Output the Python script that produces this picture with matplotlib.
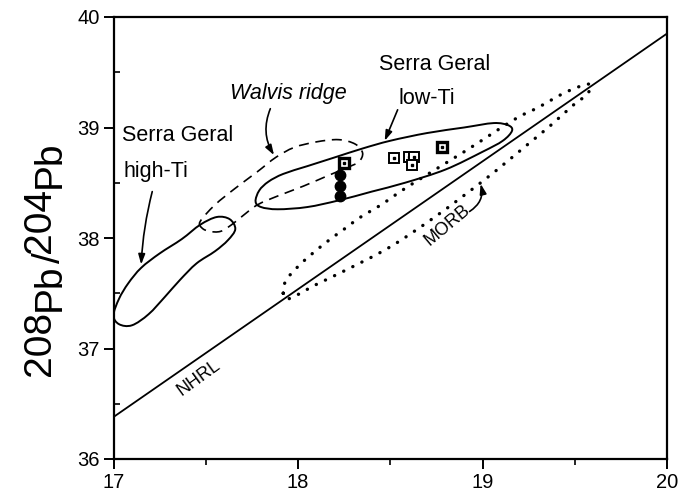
import numpy as np
import matplotlib
matplotlib.use('Agg')
import matplotlib.pyplot as plt
from matplotlib.path import Path
from matplotlib.patches import PathPatch

# NHRL reference line
nhrl_x = [17.0, 20.0]
nhrl_y = [36.38, 39.85]

# field outlines
hiti_x = [17.00, 17.03, 17.08, 17.15, 17.25, 17.37, 17.47, 17.56, 17.63, 17.66,
          17.62, 17.55, 17.45, 17.36, 17.28, 17.19, 17.10, 17.03]
hiti_y = [37.30, 37.45, 37.59, 37.73, 37.86, 37.99, 38.12, 38.19, 38.17, 38.08,
          37.98, 37.88, 37.77, 37.62, 37.47, 37.31, 37.21, 37.22]

lowti_x = [17.77, 17.79, 17.84, 17.92, 18.05, 18.20, 18.35, 18.50, 18.70, 18.90,
           19.06, 19.14, 19.16, 19.11, 19.00, 18.80, 18.58, 18.40, 18.22, 18.05, 17.89, 17.80]
lowti_y = [38.33, 38.43, 38.51, 38.58, 38.65, 38.73, 38.81, 38.88, 38.95, 39.00,
           39.04, 39.02, 38.97, 38.88, 38.78, 38.62, 38.50, 38.42, 38.34, 38.28, 38.26, 38.28]

walvis_x = [17.48, 17.47, 17.55, 17.66, 17.78, 17.88, 17.98, 18.10, 18.22, 18.31,
            18.35, 18.33, 18.27, 18.17, 18.03, 17.89, 17.78, 17.70, 17.64, 17.58, 17.52]
walvis_y = [38.09, 38.15, 38.30, 38.45, 38.60, 38.73, 38.82, 38.87, 38.89, 38.85,
            38.77, 38.69, 38.64, 38.57, 38.47, 38.38, 38.30, 38.20, 38.12, 38.06, 38.06]

morb_x = [17.92, 17.93, 17.97, 18.05, 18.16, 18.25, 18.34, 18.45, 18.60, 18.90, 19.17,
          19.30, 19.44, 19.56, 19.59, 19.56, 19.49, 19.37, 19.24, 19.11, 18.99,
          18.75, 18.50, 18.26, 18.10, 17.95]
morb_y = [37.50, 37.60, 37.69, 37.82, 37.97, 38.08, 38.19, 38.30, 38.47, 38.78, 39.07,
          39.18, 39.31, 39.39, 39.37, 39.29, 39.20, 39.02, 38.84, 38.66, 38.50,
          38.20, 37.92, 37.71, 37.58, 37.45]

# samples
sq_x = [18.25, 18.52, 18.60, 18.63, 18.62, 18.78]
sq_y = [38.68, 38.72, 38.73, 38.73, 38.66, 38.82]
sq_bold = [True, False, False, False, False, True]
circ_x = [18.23, 18.23, 18.23]
circ_y = [38.57, 38.47, 38.38]


def closed_curve(xs, ys):
    p = np.column_stack([xs, ys])
    n = len(p)
    verts = [p[0]]
    codes = [Path.MOVETO]
    for i in range(n):
        p0, p1, p2, p3 = p[i - 1], p[i], p[(i + 1) % n], p[(i + 2) % n]
        verts += [p1 + (p2 - p0) / 6, p2 - (p3 - p1) / 6, p2]
        codes += [Path.CURVE4] * 3
    return Path(verts, codes)


plt.rcParams['font.family'] = ['Liberation Sans', 'DejaVu Sans']

fig = plt.figure(figsize=(6.94, 4.92), dpi=100)
ax = fig.add_axes([113.5/694, 1 - 459/492, (667 - 113.5)/694, (459 - 17)/492])

ax.plot(nhrl_x, nhrl_y, 'k', lw=1.3)
ax.add_patch(PathPatch(closed_curve(hiti_x, hiti_y), fc='none', ec='k', lw=1.4))
ax.add_patch(PathPatch(closed_curve(lowti_x, lowti_y), fc='none', ec='k', lw=1.4))
ax.add_patch(PathPatch(closed_curve(walvis_x, walvis_y), fc='none', ec='k', lw=1.2,
                       ls=(0, (6, 4))))
ax.add_patch(PathPatch(closed_curve(morb_x, morb_y), fc='none', ec='k', lw=2.4,
                       ls=(0, (0.05, 3.0)), capstyle='round'))

ax.plot(circ_x, circ_y, 'o', ms=7.5, color='k')
for x, y, b in zip(sq_x, sq_y, sq_bold):
    ax.plot(x, y, 's', ms=7, mfc='white', mec='k', mew=2.4 if b else 1.4)
    ax.plot(x, y, 's', ms=1.8, color='k')

ax.set_xlim(17, 20)
ax.set_ylim(36, 40)
ax.set_xticks([17, 18, 19, 20])
ax.set_yticks([36, 37, 38, 39, 40])
ax.set_xticks([17.5, 18.5, 19.5], minor=True)
ax.set_yticks([36.5, 37.5, 38.5, 39.5], minor=True)
ax.tick_params(which='major', direction='out', length=7, width=1.4, labelsize=14.5, pad=3)
ax.tick_params(axis='x', which='minor', direction='out', length=4, width=1.2)
ax.tick_params(axis='y', which='minor', direction='in', length=4, width=1.2)
for s in ax.spines.values():
    s.set_linewidth(1.6)

# labels
tk = dict(fontsize=15.5, ha='center', va='center')
ax.text(17.35, 38.93, 'Serra Geral', **tk)
ax.text(17.23, 38.60, 'high-Ti', **tk)
ax.text(17.95, 39.31, 'Walvis ridge', style='italic', **tk)
ax.text(18.74, 39.57, 'Serra Geral', **tk)
ax.text(18.70, 39.26, 'low-Ti', **tk)
ax.text(17.46, 36.73, 'NHRL', rotation=36, fontsize=13, ha='center', va='center')
ax.text(18.81, 38.12, 'MORB', rotation=40, fontsize=13, ha='center', va='center')

arw = dict(arrowstyle='-|>,head_length=0.6,head_width=0.2', color='k', lw=1.2,
           shrinkA=0, shrinkB=0)
ax.annotate('', xy=(17.15, 37.76), xytext=(17.21, 38.42),
            arrowprops=dict(connectionstyle='arc3,rad=0.05', **arw))
ax.annotate('', xy=(17.87, 38.75), xytext=(17.85, 39.17),
            arrowprops=dict(connectionstyle='arc3,rad=0.25', **arw))
ax.annotate('', xy=(18.47, 38.88), xytext=(18.54, 39.16),
            arrowprops=dict(connectionstyle='arc3,rad=0', **arw))
ax.annotate('', xy=(18.99, 38.49), xytext=(18.93, 38.24),
            arrowprops=dict(connectionstyle='arc3,rad=0.35', **arw))

# y label: numbers raised relative to Pb
renderer = fig.canvas.get_renderer()
parts = [('208', 10), ('Pb', 0), ('/', 0), ('204', 10), ('Pb', 0)]
ypos = 376.0
for txt, raise_px in parts:
    t = fig.text((60 - raise_px)/694, 1 - ypos/492, txt, rotation=90, rotation_mode='anchor',
                 ha='left', va='baseline', fontsize=28)
    ypos -= t.get_window_extent(renderer).height

fig.savefig('out.png', dpi=100)
